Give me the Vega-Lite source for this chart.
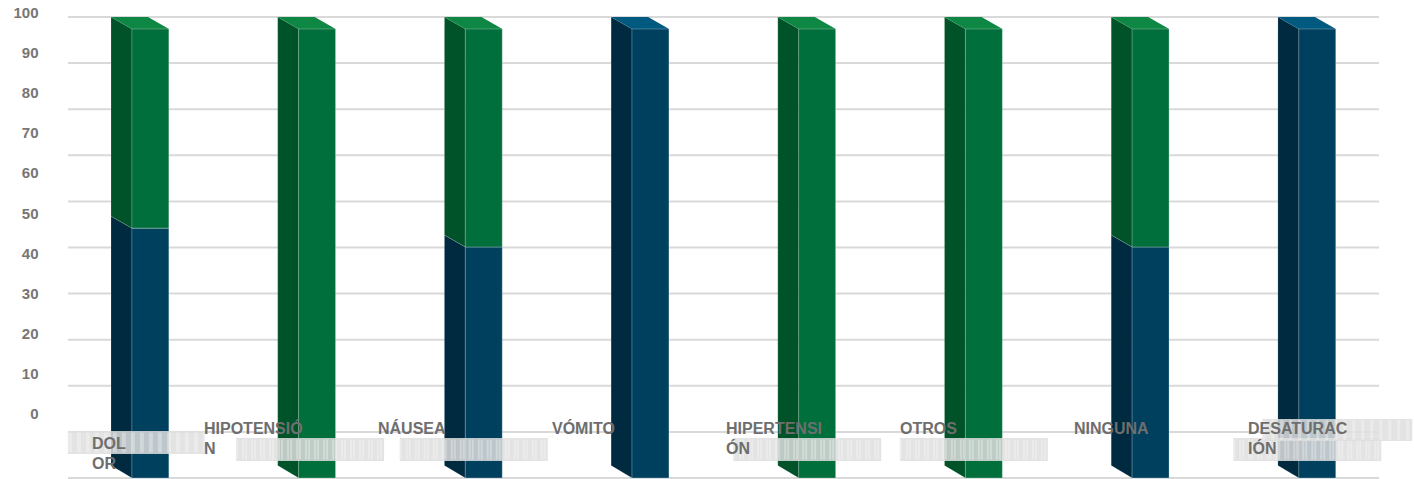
{
  "$schema": "https://vega.github.io/schema/vega-lite/v6.json",
  "width": 1311,
  "height": 461,
  "padding": {"left": 68, "top": 17, "right": 35, "bottom": 1},
  "autosize": "none",
  "background": "white",
  "config": {"view": {"stroke": null}},
  "datasets": {
    "escala": [
      {"v": 0}, {"v": 10}, {"v": 20}, {"v": 30}, {"v": 40}, {"v": 50},
      {"v": 60}, {"v": 70}, {"v": 80}, {"v": 90}, {"v": 100}
    ],
    "frente": [
      {"complicacion": "DOLOR", "serie": "azul", "desde": 0, "hasta": 54.2},
      {"complicacion": "DOLOR", "serie": "verde", "desde": 54.2, "hasta": 97.4},
      {"complicacion": "HIPOTENSIÓN", "serie": "verde", "desde": 0, "hasta": 97.4},
      {"complicacion": "NÁUSEA", "serie": "azul", "desde": 0, "hasta": 50.1},
      {"complicacion": "NÁUSEA", "serie": "verde", "desde": 50.1, "hasta": 97.4},
      {"complicacion": "VÓMITO", "serie": "azul", "desde": 0, "hasta": 97.4},
      {"complicacion": "HIPERTENSIÓN", "serie": "verde", "desde": 0, "hasta": 97.4},
      {"complicacion": "OTROS", "serie": "verde", "desde": 0, "hasta": 97.4},
      {"complicacion": "NINGUNA", "serie": "azul", "desde": 0, "hasta": 50.1},
      {"complicacion": "NINGUNA", "serie": "verde", "desde": 50.1, "hasta": 97.4},
      {"complicacion": "DESATURACIÓN", "serie": "azul", "desde": 0, "hasta": 97.4}
    ],
    "lados": [
      {"tramo": "DOLOR azul", "serie": "azul", "eje": 0.264, "desde": 2.7, "hasta": 56.8},
      {"tramo": "DOLOR azul", "serie": "azul", "eje": 0.39, "desde": 0, "hasta": 54.2},
      {"tramo": "DOLOR verde", "serie": "verde", "eje": 0.264, "desde": 56.8, "hasta": 100},
      {"tramo": "DOLOR verde", "serie": "verde", "eje": 0.39, "desde": 54.2, "hasta": 97.4},
      {"tramo": "HIPOTENSIÓN verde", "serie": "verde", "eje": 1.264, "desde": 2.7, "hasta": 100},
      {"tramo": "HIPOTENSIÓN verde", "serie": "verde", "eje": 1.39, "desde": 0, "hasta": 97.4},
      {"tramo": "NÁUSEA azul", "serie": "azul", "eje": 2.264, "desde": 2.7, "hasta": 52.7},
      {"tramo": "NÁUSEA azul", "serie": "azul", "eje": 2.39, "desde": 0, "hasta": 50.1},
      {"tramo": "NÁUSEA verde", "serie": "verde", "eje": 2.264, "desde": 52.7, "hasta": 100},
      {"tramo": "NÁUSEA verde", "serie": "verde", "eje": 2.39, "desde": 50.1, "hasta": 97.4},
      {"tramo": "VÓMITO azul", "serie": "azul", "eje": 3.264, "desde": 2.7, "hasta": 100},
      {"tramo": "VÓMITO azul", "serie": "azul", "eje": 3.39, "desde": 0, "hasta": 97.4},
      {"tramo": "HIPERTENSIÓN verde", "serie": "verde", "eje": 4.264, "desde": 2.7, "hasta": 100},
      {"tramo": "HIPERTENSIÓN verde", "serie": "verde", "eje": 4.39, "desde": 0, "hasta": 97.4},
      {"tramo": "OTROS verde", "serie": "verde", "eje": 5.264, "desde": 2.7, "hasta": 100},
      {"tramo": "OTROS verde", "serie": "verde", "eje": 5.39, "desde": 0, "hasta": 97.4},
      {"tramo": "NINGUNA azul", "serie": "azul", "eje": 6.264, "desde": 2.7, "hasta": 52.7},
      {"tramo": "NINGUNA azul", "serie": "azul", "eje": 6.39, "desde": 0, "hasta": 50.1},
      {"tramo": "NINGUNA verde", "serie": "verde", "eje": 6.264, "desde": 52.7, "hasta": 100},
      {"tramo": "NINGUNA verde", "serie": "verde", "eje": 6.39, "desde": 50.1, "hasta": 97.4},
      {"tramo": "DESATURACIÓN azul", "serie": "azul", "eje": 7.264, "desde": 2.7, "hasta": 100},
      {"tramo": "DESATURACIÓN azul", "serie": "azul", "eje": 7.39, "desde": 0, "hasta": 97.4}
    ],
    "topes": [
      {"tramo": "DOLOR", "serie": "verde", "eje": 0.264, "desde": 100, "hasta": 100},
      {"tramo": "DOLOR", "serie": "verde", "eje": 0.39, "desde": 97.4, "hasta": 100},
      {"tramo": "DOLOR", "serie": "verde", "eje": 0.486, "desde": 97.4, "hasta": 100},
      {"tramo": "DOLOR", "serie": "verde", "eje": 0.612, "desde": 97.4, "hasta": 97.4},
      {"tramo": "HIPOTENSIÓN", "serie": "verde", "eje": 1.264, "desde": 100, "hasta": 100},
      {"tramo": "HIPOTENSIÓN", "serie": "verde", "eje": 1.39, "desde": 97.4, "hasta": 100},
      {"tramo": "HIPOTENSIÓN", "serie": "verde", "eje": 1.486, "desde": 97.4, "hasta": 100},
      {"tramo": "HIPOTENSIÓN", "serie": "verde", "eje": 1.612, "desde": 97.4, "hasta": 97.4},
      {"tramo": "NÁUSEA", "serie": "verde", "eje": 2.264, "desde": 100, "hasta": 100},
      {"tramo": "NÁUSEA", "serie": "verde", "eje": 2.39, "desde": 97.4, "hasta": 100},
      {"tramo": "NÁUSEA", "serie": "verde", "eje": 2.486, "desde": 97.4, "hasta": 100},
      {"tramo": "NÁUSEA", "serie": "verde", "eje": 2.612, "desde": 97.4, "hasta": 97.4},
      {"tramo": "VÓMITO", "serie": "azul", "eje": 3.264, "desde": 100, "hasta": 100},
      {"tramo": "VÓMITO", "serie": "azul", "eje": 3.39, "desde": 97.4, "hasta": 100},
      {"tramo": "VÓMITO", "serie": "azul", "eje": 3.486, "desde": 97.4, "hasta": 100},
      {"tramo": "VÓMITO", "serie": "azul", "eje": 3.612, "desde": 97.4, "hasta": 97.4},
      {"tramo": "HIPERTENSIÓN", "serie": "verde", "eje": 4.264, "desde": 100, "hasta": 100},
      {"tramo": "HIPERTENSIÓN", "serie": "verde", "eje": 4.39, "desde": 97.4, "hasta": 100},
      {"tramo": "HIPERTENSIÓN", "serie": "verde", "eje": 4.486, "desde": 97.4, "hasta": 100},
      {"tramo": "HIPERTENSIÓN", "serie": "verde", "eje": 4.612, "desde": 97.4, "hasta": 97.4},
      {"tramo": "OTROS", "serie": "verde", "eje": 5.264, "desde": 100, "hasta": 100},
      {"tramo": "OTROS", "serie": "verde", "eje": 5.39, "desde": 97.4, "hasta": 100},
      {"tramo": "OTROS", "serie": "verde", "eje": 5.486, "desde": 97.4, "hasta": 100},
      {"tramo": "OTROS", "serie": "verde", "eje": 5.612, "desde": 97.4, "hasta": 97.4},
      {"tramo": "NINGUNA", "serie": "verde", "eje": 6.264, "desde": 100, "hasta": 100},
      {"tramo": "NINGUNA", "serie": "verde", "eje": 6.39, "desde": 97.4, "hasta": 100},
      {"tramo": "NINGUNA", "serie": "verde", "eje": 6.486, "desde": 97.4, "hasta": 100},
      {"tramo": "NINGUNA", "serie": "verde", "eje": 6.612, "desde": 97.4, "hasta": 97.4},
      {"tramo": "DESATURACIÓN", "serie": "azul", "eje": 7.264, "desde": 100, "hasta": 100},
      {"tramo": "DESATURACIÓN", "serie": "azul", "eje": 7.39, "desde": 97.4, "hasta": 100},
      {"tramo": "DESATURACIÓN", "serie": "azul", "eje": 7.486, "desde": 97.4, "hasta": 100},
      {"tramo": "DESATURACIÓN", "serie": "azul", "eje": 7.612, "desde": 97.4, "hasta": 97.4}
    ],
    "franjas": [
      {"complicacion": "NÁUSEA", "desde": 3.7, "medio": 6.2, "hasta": 8.7},
      {"complicacion": "HIPERTENSIÓN", "desde": 3.7, "medio": 6.2, "hasta": 8.7},
      {"complicacion": "OTROS", "desde": 3.7, "medio": 6.2, "hasta": 8.7},
      {"complicacion": "DESATURACIÓN", "desde": 3.7, "medio": 6.2, "hasta": 8.7}
    ],
    "etiquetas": [
      {"complicacion": "HIPOTENSIÓN", "rotulo": "HIPOTENSIÓ\nN"},
      {"complicacion": "NÁUSEA", "rotulo": "NÁUSEA"},
      {"complicacion": "VÓMITO", "rotulo": "VÓMITO"},
      {"complicacion": "HIPERTENSIÓN", "rotulo": "HIPERTENSI\nÓN"},
      {"complicacion": "OTROS", "rotulo": "OTROS"},
      {"complicacion": "NINGUNA", "rotulo": "NINGUNA"},
      {"complicacion": "DESATURACIÓN", "rotulo": "DESATURAC\nIÓN"}
    ]
  },
  "layer": [
    {
      "data": {"name": "escala"},
      "mark": {"type": "rule", "color": "#d9d9d9", "strokeWidth": 2},
      "encoding": {
        "y": {"field": "v", "type": "quantitative", "scale": {"domain": [0, 100]}, "axis": null}
      }
    },
    {
      "data": {"name": "escala"},
      "mark": {"type": "rule", "opacity": 0},
      "encoding": {
        "y": {
          "field": "v", "type": "quantitative",
          "scale": {"domain": [0, 100], "range": [396.5, -4.5]},
          "axis": {
            "orient": "left", "title": null, "domain": false, "ticks": false, "grid": false,
            "values": [0, 10, 20, 30, 40, 50, 60, 70, 80, 90, 100],
            "labelAlign": "right", "labelPadding": 30, "labelFont": "Liberation Sans",
            "labelFontWeight": "bold", "labelFontSize": 15, "labelColor": "#767676"
          }
        }
      }
    },
    {
      "data": {"name": "lados"},
      "mark": {"type": "area", "stroke": "#ffffff", "strokeOpacity": 0.15, "strokeWidth": 1},
      "encoding": {
        "x": {"field": "eje", "type": "quantitative", "scale": {"domain": [0, 8], "range": [-1, 1332.6]}, "axis": null},
        "y": {"field": "hasta", "type": "quantitative", "scale": {"domain": [0, 100]}, "axis": null},
        "y2": {"field": "desde"},
        "detail": {"field": "tramo"},
        "color": {
          "field": "serie", "type": "nominal", "legend": null,
          "scale": {"domain": ["azul", "verde"], "range": ["#002a40", "#005228"]}
        }
      }
    },
    {
      "data": {"name": "topes"},
      "mark": {"type": "area"},
      "encoding": {
        "x": {"field": "eje", "type": "quantitative", "scale": {"domain": [0, 8], "range": [-1, 1332.6]}, "axis": null},
        "y": {"field": "hasta", "type": "quantitative", "scale": {"domain": [0, 100]}, "axis": null},
        "y2": {"field": "desde"},
        "detail": {"field": "tramo"},
        "color": {
          "field": "serie", "type": "nominal", "legend": null,
          "scale": {"domain": ["azul", "verde"], "range": ["#005a80", "#0d8743"]}
        }
      }
    },
    {
      "data": {"name": "frente"},
      "mark": {"type": "bar", "width": 37, "stroke": "#ffffff", "strokeOpacity": 0.25, "strokeWidth": 1},
      "encoding": {
        "x": {
          "field": "complicacion", "type": "nominal", "axis": null,
          "scale": {
            "type": "band", "paddingInner": 0, "paddingOuter": 0, "range": [-1, 1332.6],
            "domain": ["DOLOR", "HIPOTENSIÓN", "NÁUSEA", "VÓMITO", "HIPERTENSIÓN", "OTROS", "NINGUNA", "DESATURACIÓN"]
          }
        },
        "y": {"field": "hasta", "type": "quantitative", "scale": {"domain": [0, 100]}, "axis": null},
        "y2": {"field": "desde"},
        "color": {
          "field": "serie", "type": "nominal", "legend": null,
          "scale": {"domain": ["azul", "verde"], "range": ["#00405f", "#006f3c"]}
        }
      }
    },
    {
      "data": {"name": "franjas"},
      "layer": [
        {
          "mark": {"type": "bar", "width": 148, "xOffset": -10, "color": "#dedede", "opacity": 0.85},
          "encoding": {
            "y": {"field": "hasta", "type": "quantitative", "scale": {"domain": [0, 100]}, "axis": null},
            "y2": {"field": "desde"}
          }
        },
        {
          "mark": {"type": "bar", "width": 148, "xOffset": -10, "fill": null, "stroke": "#ffffff", "strokeWidth": 20, "strokeDash": [2, 7], "strokeOpacity": 0.3},
          "encoding": {
            "y": {"field": "medio", "type": "quantitative", "scale": {"domain": [0, 100]}, "axis": null},
            "y2": {"field": "medio"}
          }
        }
      ],
      "encoding": {
        "x": {
          "field": "complicacion", "type": "nominal", "axis": null,
          "scale": {
            "type": "band", "paddingInner": 0, "paddingOuter": 0, "range": [-1, 1332.6],
            "domain": ["DOLOR", "HIPOTENSIÓN", "NÁUSEA", "VÓMITO", "HIPERTENSIÓN", "OTROS", "NINGUNA", "DESATURACIÓN"]
          }
        }
      }
    },
    {
      "data": {"values": [{"complicacion": "HIPOTENSIÓN", "desde": 3.7, "medio": 6.2, "hasta": 8.7}]},
      "layer": [
        {
          "mark": {"type": "bar", "width": 148, "xOffset": -7, "color": "#dedede", "opacity": 0.85},
          "encoding": {
            "y": {"field": "hasta", "type": "quantitative", "scale": {"domain": [0, 100]}, "axis": null},
            "y2": {"field": "desde"}
          }
        },
        {
          "mark": {"type": "bar", "width": 148, "xOffset": -7, "fill": null, "stroke": "#ffffff", "strokeWidth": 20, "strokeDash": [2, 7], "strokeOpacity": 0.3},
          "encoding": {
            "y": {"field": "medio", "type": "quantitative", "scale": {"domain": [0, 100]}, "axis": null},
            "y2": {"field": "medio"}
          }
        }
      ],
      "encoding": {
        "x": {
          "field": "complicacion", "type": "nominal", "axis": null,
          "scale": {
            "type": "band", "paddingInner": 0, "paddingOuter": 0, "range": [-1, 1332.6],
            "domain": ["DOLOR", "HIPOTENSIÓN", "NÁUSEA", "VÓMITO", "HIPERTENSIÓN", "OTROS", "NINGUNA", "DESATURACIÓN"]
          }
        }
      }
    },
    {
      "data": {"values": [{"complicacion": "DOLOR", "desde": 5.2, "medio": 7.7, "hasta": 10.2}]},
      "layer": [
        {
          "mark": {"type": "bar", "width": 137, "xOffset": -14, "color": "#dedede", "opacity": 0.85},
          "encoding": {
            "y": {"field": "hasta", "type": "quantitative", "scale": {"domain": [0, 100]}, "axis": null},
            "y2": {"field": "desde"}
          }
        },
        {
          "mark": {"type": "bar", "width": 137, "xOffset": -14, "fill": null, "stroke": "#ffffff", "strokeWidth": 20, "strokeDash": [2, 7], "strokeOpacity": 0.3},
          "encoding": {
            "y": {"field": "medio", "type": "quantitative", "scale": {"domain": [0, 100]}, "axis": null},
            "y2": {"field": "medio"}
          }
        }
      ],
      "encoding": {
        "x": {
          "field": "complicacion", "type": "nominal", "axis": null,
          "scale": {
            "type": "band", "paddingInner": 0, "paddingOuter": 0, "range": [-1, 1332.6],
            "domain": ["DOLOR", "HIPOTENSIÓN", "NÁUSEA", "VÓMITO", "HIPERTENSIÓN", "OTROS", "NINGUNA", "DESATURACIÓN"]
          }
        }
      }
    },
    {
      "data": {"values": [{"complicacion": "DESATURACIÓN", "desde": 8.0, "medio": 10.4, "hasta": 12.8}]},
      "layer": [
        {
          "mark": {"type": "bar", "width": 150, "xOffset": 20, "color": "#dedede", "opacity": 0.85},
          "encoding": {
            "y": {"field": "hasta", "type": "quantitative", "scale": {"domain": [0, 100]}, "axis": null},
            "y2": {"field": "desde"}
          }
        },
        {
          "mark": {"type": "bar", "width": 150, "xOffset": 20, "fill": null, "stroke": "#ffffff", "strokeWidth": 20, "strokeDash": [2, 7], "strokeOpacity": 0.3},
          "encoding": {
            "y": {"field": "medio", "type": "quantitative", "scale": {"domain": [0, 100]}, "axis": null},
            "y2": {"field": "medio"}
          }
        }
      ],
      "encoding": {
        "x": {
          "field": "complicacion", "type": "nominal", "axis": null,
          "scale": {
            "type": "band", "paddingInner": 0, "paddingOuter": 0, "range": [-1, 1332.6],
            "domain": ["DOLOR", "HIPOTENSIÓN", "NÁUSEA", "VÓMITO", "HIPERTENSIÓN", "OTROS", "NINGUNA", "DESATURACIÓN"]
          }
        }
      }
    },
    {
      "data": {"name": "etiquetas"},
      "mark": {
        "type": "text", "align": "left", "baseline": "alphabetic", "lineBreak": "\n", "lineHeight": 20,
        "font": "Liberation Sans", "fontWeight": "bold", "fontSize": 16, "color": "#6e6e6e"
      },
      "encoding": {
        "x": {
          "field": "complicacion", "type": "nominal", "axis": null, "bandPosition": 0,
          "scale": {
            "type": "band", "paddingInner": 0, "paddingOuter": 0, "range": [-38, 1354],
            "domain": ["DOLOR", "HIPOTENSIÓN", "NÁUSEA", "VÓMITO", "HIPERTENSIÓN", "OTROS", "NINGUNA", "DESATURACIÓN"]
          }
        },
        "y": {"datum": 9.5, "type": "quantitative", "scale": {"domain": [0, 100]}, "axis": null},
        "text": {"field": "rotulo"}
      }
    },
    {
      "data": {"values": [{"complicacion": "DOLOR", "rotulo": "DOL\nOR"}]},
      "mark": {
        "type": "text", "align": "left", "baseline": "alphabetic", "lineBreak": "\n", "lineHeight": 20, "xOffset": 62,
        "font": "Liberation Sans", "fontWeight": "bold", "fontSize": 16, "color": "#6e6e6e"
      },
      "encoding": {
        "x": {
          "field": "complicacion", "type": "nominal", "axis": null, "bandPosition": 0,
          "scale": {
            "type": "band", "paddingInner": 0, "paddingOuter": 0, "range": [-38, 1354],
            "domain": ["DOLOR", "HIPOTENSIÓN", "NÁUSEA", "VÓMITO", "HIPERTENSIÓN", "OTROS", "NINGUNA", "DESATURACIÓN"]
          }
        },
        "y": {"datum": 6.3, "type": "quantitative", "scale": {"domain": [0, 100]}, "axis": null},
        "text": {"field": "rotulo"}
      }
    }
  ],
  "resolve": {"scale": {"x": "independent", "y": "independent", "color": "independent"}}
}
